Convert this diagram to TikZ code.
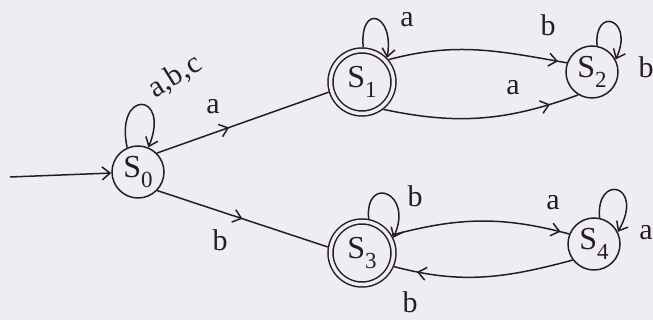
\documentclass[tikz,border=0pt]{standalone}
\usepackage{fontspec}
\setmainfont{Liberation Serif}
\usetikzlibrary{arrows.meta,decorations.markings}
\definecolor{paper}{RGB}{240,237,242}
\definecolor{ink}{RGB}{35,30,35}
\newcommand{\stname}[1]{S\raisebox{-10pt}{\fontsize{23}{23}\selectfont #1}}
\begin{document}
\begin{tikzpicture}[x=1pt, y=1pt, line width=1.5pt, ink,
        every node/.style={font=\fontsize{30}{30}\selectfont, text=ink},
        state/.style={draw, circle, minimum size=52pt, inner sep=0pt, font=\fontsize{32}{32}\selectfont},
        accept/.style={state, double=paper, double distance=3.5pt, minimum size=63pt, outer sep=3.25pt},
        barb/.style={-{Straight Barb[length=8pt, width=13pt]}},
        midarrow/.style={decoration={markings, mark=at position #1 with {\arrow{Straight Barb[length=8pt, width=13pt]}}}, postaction={decorate}}]
        % Paper background (fixes the margins)
        \path[fill=paper, use as bounding box] (0,0) rectangle (653,320);
        % States
        \node[state] (S0) at (138,148) {\stname{0}};
        \node[accept] (S1) at (362,238) {\stname{1}};
        \node[state] (S2) at (592,248) {\stname{2}};
        \node[accept] (S3) at (362,67) {\stname{3}};
        \node[state] (S4) at (594,76) {\stname{4}};
        % Start arrow
        \coordinate (start) at (10,143);
        \draw[barb] (start) -- (S0);
        % Transitions between states
        \draw[midarrow=0.42] (S0.45) -- (S1.197);
        \draw[midarrow=0.5] (S0.-44) -- (S3.170);
        \draw[midarrow=0.95] (S1.40) to[out=15, in=170] (S2.160);
        \draw[midarrow=0.85] (S1.-52) to[out=-12, in=-160] (S2.-121);
        \draw[midarrow=0.95] (S3.31) to[out=15, in=165] (S4.158);
        \draw[midarrow=0.87] (S4.-143) to[out=-165, in=-15] (S3.-23);
        % Self loops
        \draw[barb] (S0.114) .. controls +(102:60) and +(68:60) .. (S0.67);
        \draw[barb] (S1.88) .. controls +(95:45) and +(80:45) .. (S1.44);
        \draw[barb] (S2.79) .. controls +(95:40) and +(65:45) .. (S2.28);
        \draw[barb] (S3.79) .. controls +(95:45) and +(65:50) .. (S3.26);
        \draw[barb] (S4.78) .. controls +(95:45) and +(60:55) .. (S4.27);
        % Transition labels
        \node[rotate=32] (l00) at (175,243) {a,b,c};
        \foreach \nm/\lx/\ly/\txt in {l01/213/213/a, l03/220/80/b, l11/407/300/a, l12/548/295/b,
                l12b/513/232/a, l22/646/253/b, l33/415/124/b, l34/553/117/a, l43/410/18/b, l44/646/87/a}
            \node (\nm) at (\lx,\ly) {\txt};
    \end{tikzpicture}
\end{document}
